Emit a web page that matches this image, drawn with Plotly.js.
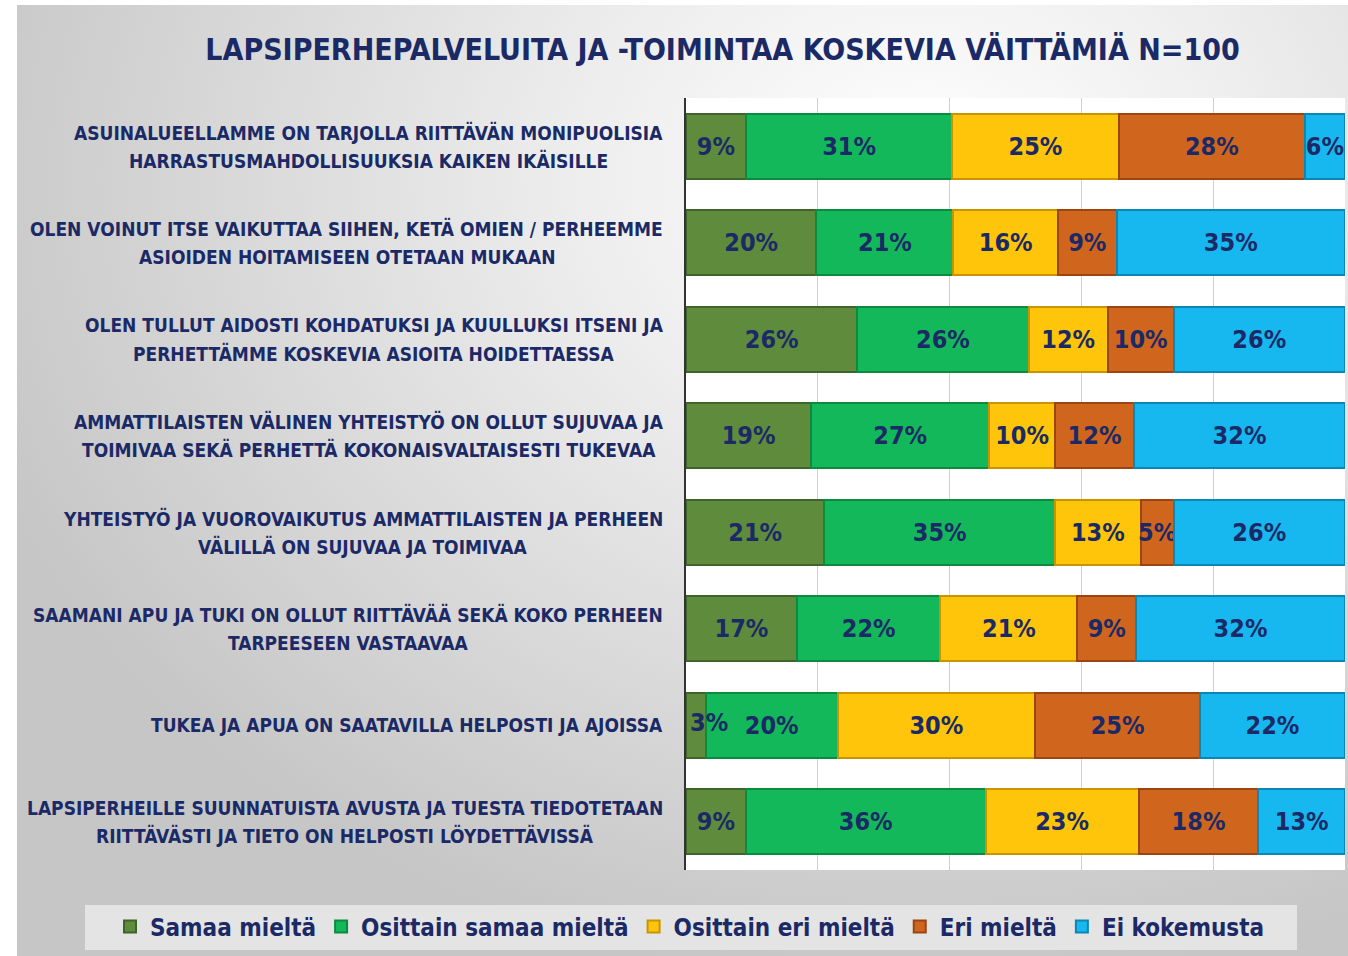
<!DOCTYPE html>
<html>
<head>
<meta charset="utf-8">
<script src="https://cdn.plot.ly/plotly-3.0.1.min.js"></script>
<style>
  html, body { margin: 0; padding: 0; background: #ffffff; }
  #bg { position: absolute; left: 17px; top: 5px; width: 1331px; height: 951px;
        background: radial-gradient(ellipse 75% 85% at 68% 18%, #ffffff 0%, #ededed 35%, #d8d8d8 70%, #c6c6c6 100%); }
  #chart { position: absolute; left: 0; top: 0; width: 1348px; height: 956px; }
</style>
</head>
<body>
<div id="bg"></div>
<div id="chart"></div>
<script>
const categories = [
  "ASUINALUEELLAMME ON TARJOLLA RIITTÄVÄN MONIPUOLISIA<br>HARRASTUSMAHDOLLISUUKSIA KAIKEN IKÄISILLE",
  "OLEN VOINUT ITSE VAIKUTTAA SIIHEN, KETÄ OMIEN / PERHEEMME<br>ASIOIDEN HOITAMISEEN OTETAAN MUKAAN",
  "OLEN TULLUT AIDOSTI KOHDATUKSI JA KUULLUKSI ITSENI JA<br>PERHETTÄMME KOSKEVIA ASIOITA HOIDETTAESSA",
  "AMMATTILAISTEN VÄLINEN YHTEISTYÖ ON OLLUT SUJUVAA JA<br>TOIMIVAA SEKÄ PERHETTÄ KOKONAISVALTAISESTI TUKEVAA",
  "YHTEISTYÖ JA VUOROVAIKUTUS AMMATTILAISTEN JA PERHEEN<br>VÄLILLÄ ON SUJUVAA JA TOIMIVAA",
  "SAAMANI APU JA TUKI ON OLLUT RIITTÄVÄÄ SEKÄ KOKO PERHEEN<br>TARPEESEEN VASTAAVAA",
  "TUKEA JA APUA ON SAATAVILLA HELPOSTI JA AJOISSA",
  "LAPSIPERHEILLE SUUNNATUISTA AVUSTA JA TUESTA TIEDOTETAAN<br>RIITTÄVÄSTI JA TIETO ON HELPOSTI LÖYDETTÄVISSÄ"
];
const seriesNames = ["Samaa mieltä", "Osittain samaa mieltä", "Osittain eri mieltä", "Eri mieltä", "Ei kokemusta"];
const samaaMielta        = [9, 20, 26, 19, 21, 17, 3, 9];
const osittainSamaa      = [31, 21, 26, 27, 35, 22, 20, 36];
const osittainEri        = [25, 16, 12, 10, 13, 21, 30, 23];
const eriMielta          = [28, 9, 10, 12, 5, 9, 25, 18];
const eiKokemusta        = [6, 35, 26, 32, 26, 32, 22, 13];
const chartTitle = "LAPSIPERHEPALVELUITA JA -TOIMINTAA KOSKEVIA VÄITTÄMIÄ N=100";

const seriesValues = [samaaMielta, osittainSamaa, osittainEri, eriMielta, eiKokemusta];
const fills = ["#5e8b3c", "#12b85a", "#ffc50a", "#d0651e", "#17b8f0"];
const edges = ["#3f6328", "#0b8a40", "#c99400", "#9a4512", "#0c86b3"];
const navy = "#1b2a66";
const fontFam = "'Liberation Sans Narrow', 'DejaVu Sans Condensed', 'Liberation Sans', sans-serif";

const W = 1348, H = 956, ML = 0, MR = 3, MT = 98, MB = 86;
const GW = W - ML - MR;
const plotLeftPx = 686;
const px2paper = px => (px - ML) / GW;
const tinyLimit = 4;   // segments narrower than this carry their label as a left-anchored annotation

const traces = seriesValues.map((vals, i) => ({
  type: "bar",
  orientation: "h",
  name: seriesNames[i],
  y: categories,
  x: vals,
  text: vals.map(v => v < tinyLimit ? "" : v + "%"),
  textposition: "inside",
  insidetextanchor: "middle",
  textangle: 0,
  constraintext: "none",
  cliponaxis: false,
  textfont: { family: fontFam, size: 25, color: navy, weight: "bold" },
  marker: { color: fills[i], line: { color: edges[i], width: 2 } },
  hoverinfo: "skip"
}));

const annotations = [];

// labels of tiny segments, placed at the segment's (normalised) start
categories.forEach((c, k) => {
  const total = seriesValues.reduce((s, arr) => s + arr[k], 0);
  let cum = 0;
  seriesValues.forEach(arr => {
    const v = arr[k];
    if (v < tinyLimit) {
      annotations.push({
        xref: "x", yref: "y", x: cum / total * 100, y: c,
        xanchor: "left", yanchor: "middle", xshift: 2, yshift: 3,
        showarrow: false, text: v + "%",
        font: { family: fontFam, size: 25, color: navy, weight: "bold" }
      });
    }
    cum += v;
  });
});

// category labels: each line its own annotation, centred in a block whose right edge is at 663px
const labelSize = 19, lineGap = 28, labelRight = 663;
const ctx = document.createElement("canvas").getContext("2d");
ctx.font = "bold " + labelSize + "px " + fontFam;
categories.forEach(c => {
  const lines = c.split("<br>");
  const widths = lines.map(l => ctx.measureText(l).width);
  const blockW = Math.max(...widths);
  const centerPx = labelRight - blockW / 2;
  lines.forEach((l, j) => {
    annotations.push({
      xref: "paper", yref: "y",
      x: px2paper(centerPx), y: c,
      xanchor: "center", yanchor: "middle",
      yshift: ((lines.length - 1) / 2 - j) * lineGap,
      showarrow: false,
      text: l,
      font: { family: fontFam, size: labelSize, color: navy, weight: "bold" }
    });
  });
});

const layout = {
  width: W, height: H,
  paper_bgcolor: "rgba(0,0,0,0)",
  plot_bgcolor: "#ffffff",
  margin: { l: ML, r: MR, t: MT, b: MB },
  barmode: "stack",
  barnorm: "percent",
  bargap: 0.33,
  title: {
    text: chartTitle,
    x: 0.536, xref: "container", xanchor: "center",
    y: 0.948, yref: "container", yanchor: "middle",
    font: { family: fontFam, size: 30, color: navy, weight: "bold" }
  },
  xaxis: {
    domain: [px2paper(plotLeftPx), 1],
    range: [0, 100.01], tickvals: [0, 20, 40, 60, 80, 100], showticklabels: false,
    showgrid: true, gridcolor: "#d0d0d0", gridwidth: 1,
    zeroline: false, ticks: "", fixedrange: true
  },
  yaxis: {
    autorange: "reversed", showticklabels: false, ticks: "",
    showline: true, linecolor: "#333333", linewidth: 2,
    showgrid: false, fixedrange: true, anchor: "x"
  },
  showlegend: true,
  legend: {
    orientation: "h",
    xref: "paper", yref: "container",
    x: px2paper(690), xanchor: "center",
    y: 1 - 927 / H, yanchor: "middle",
    bgcolor: "rgba(0,0,0,0)",
    font: { family: fontFam, size: 24, color: navy, weight: "bold" },
    itemwidth: 30,
    traceorder: "normal"
  },
  shapes: [{
    type: "rect", xref: "paper", yref: "paper",
    x0: px2paper(85), x1: px2paper(1297),
    y0: (H - MB - 950) / (H - MT - MB), y1: (H - MB - 905) / (H - MT - MB),
    fillcolor: "#e4e4e4", line: { width: 0 }, layer: "below"
  }],
  annotations: annotations
};

Plotly.newPlot("chart", traces, layout, { displayModeBar: false, staticPlot: true });
</script>
</body>
</html>
